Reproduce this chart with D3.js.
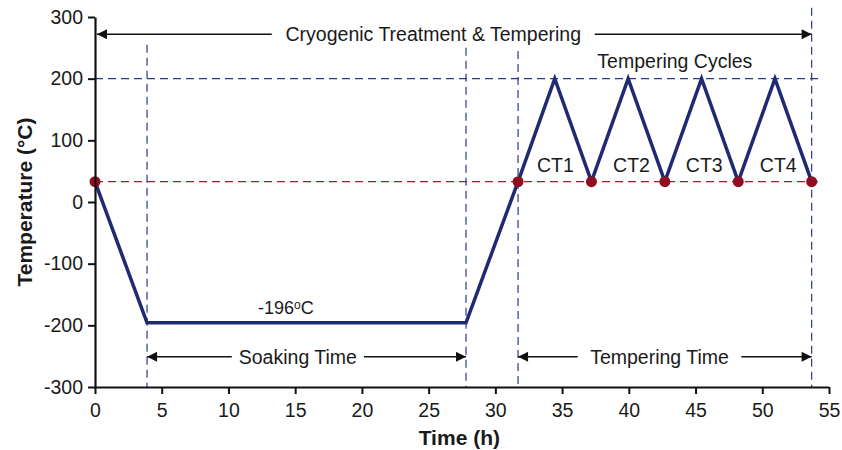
<!DOCTYPE html>
<html>
<head>
<meta charset="utf-8">
<script src="https://cdn.jsdelivr.net/npm/d3@7"></script>
<style>
  body { margin: 0; background: #fff; }
  text { font-family: "Liberation Sans", Arial, sans-serif; fill: #1a1a1a; }
</style>
</head>
<body>
<div class="chart"></div>
<script>
// ---- data ----
const timeH = [0, 3.9, 27.8, 31.7, 34.45, 37.2, 39.95, 42.7, 45.45, 48.2, 50.95, 53.7]
const tempC = [33, -196, -196, 33, 200, 33, 200, 33, 200, 33, 200, 33]
const markerTimes = [0, 31.7, 37.2, 42.7, 48.2, 53.7]
const roomTemp = 33
const temperTemp = 200
const cycleLabels = ['CT1', 'CT2', 'CT3', 'CT4']
const cycleLabelTimes = [34.5, 40.2, 45.65, 51.2]
const xTicks = [0, 5, 10, 15, 20, 25, 30, 35, 40, 45, 50, 55]
const yTicks = [-300, -200, -100, 0, 100, 200, 300]

const margin = { top: 17, right: 13, bottom: 63, left: 95 }
const width = 842 - margin.left - margin.right
const height = 450 - margin.top - margin.bottom

const svg = d3.select('.chart')
  .append('svg')
    .attr('width', 842)
    .attr('height', 450)

const defs = svg.append('defs')
defs.append('marker')
    .attr('id', 'head')
    .attr('viewBox', '0 0 10 10')
    .attr('refX', 10)
    .attr('refY', 5)
    .attr('markerWidth', 16)
    .attr('markerHeight', 10)
    .attr('markerUnits', 'userSpaceOnUse')
    .attr('orient', 'auto-start-reverse')
  .append('path')
    .attr('d', 'M0,0 L10,5 L0,10 Z')
    .attr('fill', '#111')

const g = svg.append('g')
    .attr('transform', `translate(${margin.left}, ${margin.top})`)

const x = d3.scaleLinear().domain([0, 55]).range([0, width])
const y = d3.scaleLinear().domain([-300, 300]).range([height, 0])

const blue = '#2b3a86'
const red = '#a01a30'
const fontSize = '19.5px'

// dashed guide lines
g.append('line')
    .attr('x1', x(0)).attr('x2', x(54.3))
    .attr('y1', y(temperTemp)).attr('y2', y(temperTemp))
    .attr('stroke', blue).attr('stroke-width', 1.2).attr('stroke-dasharray', '8,5')

g.append('line')
    .attr('x1', x(0)).attr('x2', x(54.3))
    .attr('y1', y(roomTemp)).attr('y2', y(roomTemp))
    .attr('stroke', red).attr('stroke-width', 1.4).attr('stroke-dasharray', '8,5')

const vLines = [[3.9, 255], [27.8, 250], [31.7, 245], [53.7, 315]]
g.selectAll('.vline')
  .data(vLines)
  .enter().append('line')
    .attr('class', 'vline')
    .attr('x1', d => x(d[0])).attr('x2', d => x(d[0]))
    .attr('y1', d => y(d[1])).attr('y2', y(-300))
    .attr('stroke', blue).attr('stroke-width', 1.2).attr('stroke-dasharray', '8,5')

// temperature profile
const line = d3.line()
  .x((d, i) => x(timeH[i]))
  .y(d => y(d))

g.append('path')
    .datum(tempC)
    .attr('d', line)
    .attr('fill', 'none')
    .attr('stroke', '#1f2a72')
    .attr('stroke-width', 3.5)
    .attr('stroke-linejoin', 'miter')

g.selectAll('.dot')
  .data(markerTimes)
  .enter().append('circle')
    .attr('class', 'dot')
    .attr('cx', d => x(d))
    .attr('cy', y(roomTemp))
    .attr('r', 5.5)
    .attr('fill', '#8c0f22')

// axes (plain hyphen for negatives, like the original)
const xAxis = d3.axisBottom(x).tickValues(xTicks).tickSize(7).tickPadding(9).tickFormat(d => String(d))
const yAxis = d3.axisLeft(y).tickValues(yTicks).tickSize(7).tickPadding(5).tickFormat(d => String(d))

const gx = g.append('g')
    .attr('transform', `translate(0, ${height})`)
    .call(xAxis)
const gy = g.append('g').call(yAxis)

;[gx, gy].forEach(a => {
  a.select('.domain').attr('stroke', '#111').attr('stroke-width', 2.2)
  a.selectAll('.tick line').attr('stroke', '#111').attr('stroke-width', 2)
  a.selectAll('.tick text')
    .style('font-family', '"Liberation Sans", Arial, sans-serif')
    .style('font-size', fontSize)
    .attr('fill', '#1a1a1a')
})
gy.select('.domain').attr('d', `M0.5,${height}V0.5`)
gx.select('.domain').attr('d', `M0.5,0.5H${width}`)

// axis titles
g.append('text')
    .attr('x', x(27.3))
    .attr('y', height + 58)
    .attr('text-anchor', 'middle')
    .style('font-size', '21px')
    .style('font-weight', 'bold')
    .text('Time (h)')

g.append('text')
    .attr('transform', `translate(${-63}, ${y(0)}) rotate(-90)`)
    .attr('text-anchor', 'middle')
    .style('font-size', '21px')
    .style('font-weight', 'bold')
    .text('Temperature (°C)')

// arrow annotations: [from, to, yValue, label, labelCenter, gapHalf]
const arrows = [
  [0.15, 53.7, 272, 'Cryogenic Treatment & Tempering', 25.35, 12.1],
  [3.9, 27.8, -251, 'Soaking Time', 15.2, 4.95],
  [31.7, 53.7, -251, 'Tempering Time', 42.3, 6.13]
]

arrows.forEach(a => {
  const [from, to, yv, label, mid, gap] = a
  g.append('line')
      .attr('x1', x(mid - gap)).attr('x2', x(from))
      .attr('y1', y(yv)).attr('y2', y(yv))
      .attr('stroke', '#111').attr('stroke-width', 1.5)
      .attr('marker-end', 'url(#head)')
  g.append('line')
      .attr('x1', x(mid + gap)).attr('x2', x(to))
      .attr('y1', y(yv)).attr('y2', y(yv))
      .attr('stroke', '#111').attr('stroke-width', 1.5)
      .attr('marker-end', 'url(#head)')
  g.append('text')
      .attr('x', x(mid))
      .attr('y', y(yv))
      .attr('dy', '0.35em')
      .attr('text-anchor', 'middle')
      .style('font-size', fontSize)
      .text(label)
})

g.append('text')
    .attr('x', x(43.45))
    .attr('y', y(228))
    .attr('dy', '0.35em')
    .attr('text-anchor', 'middle')
    .style('font-size', fontSize)
    .text('Tempering Cycles')

g.selectAll('.ct')
  .data(cycleLabels)
  .enter().append('text')
    .attr('class', 'ct')
    .attr('x', (d, i) => x(cycleLabelTimes[i]))
    .attr('y', y(60))
    .attr('dy', '0.35em')
    .attr('text-anchor', 'middle')
    .style('font-size', fontSize)
    .text(d => d)

const lbl = g.append('text')
    .attr('x', x(14.3))
    .attr('y', y(-171))
    .attr('dy', '0.35em')
    .attr('text-anchor', 'middle')
    .style('font-size', '18px')
lbl.append('tspan').text('-196')
lbl.append('tspan').attr('baseline-shift', '5').style('font-size', '12px').text('o')
lbl.append('tspan').text('C')
</script>
</body>
</html>
